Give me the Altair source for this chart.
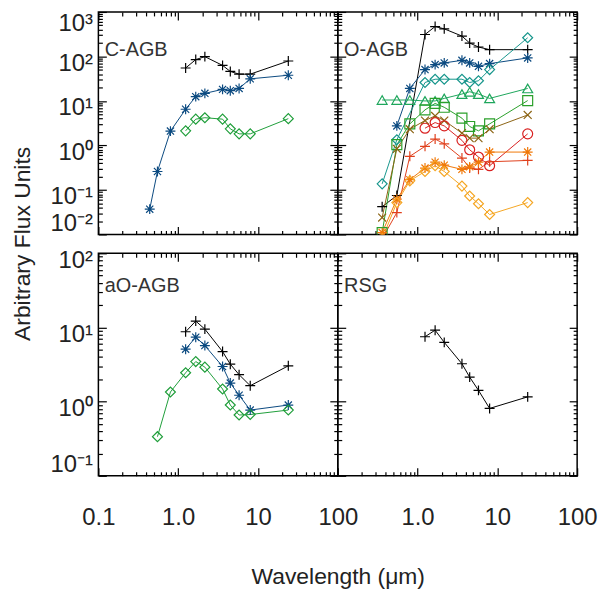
import altair as alt
import pandas as pd

FONT = "Liberation Sans"

# ---------------- data (wavelength in micron, arbitrary flux) ----------------
# C-AGB
cagb_plus_wl = [1.24, 1.66, 2.16, 3.6, 4.5, 5.8, 8.0, 24.0]
cagb_plus_fx = [55, 85, 99, 63, 46, 40, 40, 79]
cagb_star_wl = [0.44, 0.55, 0.80, 1.24, 1.66, 2.16, 3.6, 4.5, 5.8, 8.0, 24.0]
cagb_star_fx = [0.037, 0.26, 2.1, 6.5, 12.5, 14.8, 18.2, 17, 19.1, 31.4, 37.8]
cagb_diam_wl = [1.24, 1.66, 2.16, 3.6, 4.5, 5.8, 8.0, 24.0]
cagb_diam_fx = [2.13, 3.9, 4.2, 3.9, 2.36, 1.82, 1.82, 4.0]

# O-AGB
oagb_plus_wl = [0.36, 0.55, 1.24, 1.66, 2.16, 3.6, 4.5, 5.8, 8.0, 24.0]
oagb_plus_fx = [0.042, 0.075, 311, 470, 417, 287, 200, 163, 142, 142]
oagb_star_wl = [0.55, 0.80, 1.24, 1.66, 2.16, 3.6, 4.5, 5.8, 8.0, 24.0]
oagb_star_fx = [2.75, 19.1, 50.7, 65.6, 71.6, 81.8, 71.6, 60, 69, 92.7]
oagb_tdiam_wl = [0.36, 0.55, 1.24, 1.66, 2.16, 3.6, 4.5, 5.8, 8.0, 24.0]
oagb_tdiam_fx = [0.137, 1.34, 26, 30.8, 30.8, 30.8, 26, 28.4, 50.7, 263]
oagb_tri_wl = [0.36, 0.55, 0.80, 1.24, 1.66, 2.16, 3.6, 4.5, 5.8, 8.0, 24.0]
oagb_tri_fx = [10.5, 10.5, 10.5, 10, 10, 11.4, 14.3, 16.1, 14.3, 11.4, 19.1]
oagb_sq_wl = [0.36, 0.55, 0.80, 1.24, 1.66, 2.16, 3.6, 4.5, 5.8, 8.0, 24.0]
oagb_sq_fx = [0.011, 1.04, 3.05, 6.3, 8.8, 7.2, 4.1, 2.67, 2.13, 3.05, 10.2]
oagb_x_wl = [0.36, 0.55, 0.80, 1.24, 1.66, 2.16, 3.6, 4.5, 5.8, 8.0, 24.0]
oagb_x_fx = [0.024, 0.84, 2.32, 3.63, 4.6, 3.63, 1.89, 1.46, 1.46, 2.32, 4.84]
oagb_circ_wl = [1.24, 1.66, 2.16, 3.6, 4.5, 5.8, 8.0, 24.0]
oagb_circ_fx = [2.44, 3.27, 2.75, 1.3, 0.80, 0.55, 0.35, 1.82]
oagb_rplus_wl = [0.36, 0.55, 0.80, 1.24, 1.66, 2.16, 3.6, 4.5, 5.8, 8.0, 24.0]
oagb_rplus_fx = [0.008, 0.031, 0.57, 0.955, 1.39, 1.09, 0.52, 0.31, 0.29, 0.43, 0.46]
oagb_ostar_wl = [0.36, 0.55, 0.80, 1.24, 1.66, 2.16, 3.6, 4.5, 5.8, 8.0, 24.0]
oagb_ostar_fx = [0.011, 0.062, 0.17, 0.31, 0.42, 0.36, 0.29, 0.33, 0.42, 0.71, 0.71]
oagb_odiam_wl = [0.36, 0.55, 0.80, 1.24, 1.66, 2.16, 3.6, 4.5, 5.8, 8.0, 24.0]
oagb_odiam_fx = [0.008, 0.052, 0.16, 0.26, 0.35, 0.26, 0.122, 0.073, 0.049, 0.028, 0.052]

# aO-AGB
aoagb_plus_wl = [1.24, 1.66, 2.16, 3.6, 4.5, 5.8, 8.0, 24.0]
aoagb_plus_fx = [8.75, 12.2, 9.5, 4.73, 3.2, 2.31, 1.64, 3.04]
aoagb_star_wl = [1.24, 1.66, 2.16, 3.6, 4.5, 5.8, 8.0, 24.0]
aoagb_star_fx = [5.1, 7.4, 5.7, 2.98, 1.78, 1.22, 0.77, 0.90]
aoagb_diam_wl = [0.55, 0.80, 1.24, 1.66, 2.16, 3.6, 4.5, 5.8, 8.0, 24.0]
aoagb_diam_fx = [0.337, 1.35, 2.45, 3.47, 2.92, 1.48, 0.90, 0.66, 0.67, 0.77]

# RSG
rsg_plus_wl = [1.24, 1.66, 2.16, 3.6, 4.5, 5.8, 8.0, 24.0]
rsg_plus_fx = [7.5, 9.2, 6.3, 3.24, 2.14, 1.42, 0.81, 1.16]

panel_names = ["C-AGB", "O-AGB", "aO-AGB", "RSG"]
panel_label_y = [100, 100, 30, 30]

# ---------------- styles ----------------
PLUS = "M-1,0L1,0M0,-1L0,1"
STAR = "M-1,0L1,0M0,-1L0,1M-0.72,-0.72L0.72,0.72M-0.72,0.72L0.72,-0.72"
XSYM = "M-0.8,-0.8L0.8,0.8M-0.8,0.8L0.8,-0.8"

series = [
    # panel, id, wl, flux, color, shape
    ("C-AGB", "c_plus", cagb_plus_wl, cagb_plus_fx, "#000000", PLUS),
    ("C-AGB", "c_star", cagb_star_wl, cagb_star_fx, "#0b4a80", STAR),
    ("C-AGB", "c_diam", cagb_diam_wl, cagb_diam_fx, "#1f9e3a", "diamond"),
    ("O-AGB", "o_plus", oagb_plus_wl, oagb_plus_fx, "#000000", PLUS),
    ("O-AGB", "o_star", oagb_star_wl, oagb_star_fx, "#0b4a80", STAR),
    ("O-AGB", "o_tdiam", oagb_tdiam_wl, oagb_tdiam_fx, "#17968c", "diamond"),
    ("O-AGB", "o_tri", oagb_tri_wl, oagb_tri_fx, "#1ea65c", "triangle-up"),
    ("O-AGB", "o_sq", oagb_sq_wl, oagb_sq_fx, "#2aa02a", "square"),
    ("O-AGB", "o_x", oagb_x_wl, oagb_x_fx, "#8c6414", XSYM),
    ("O-AGB", "o_circ", oagb_circ_wl, oagb_circ_fx, "#d92020", "circle"),
    ("O-AGB", "o_rplus", oagb_rplus_wl, oagb_rplus_fx, "#e0401c", PLUS),
    ("O-AGB", "o_ostar", oagb_ostar_wl, oagb_ostar_fx, "#f07808", STAR),
    ("O-AGB", "o_odiam", oagb_odiam_wl, oagb_odiam_fx, "#f5a623", "diamond"),
    ("aO-AGB", "a_plus", aoagb_plus_wl, aoagb_plus_fx, "#000000", PLUS),
    ("aO-AGB", "a_star", aoagb_star_wl, aoagb_star_fx, "#0b4a80", STAR),
    ("aO-AGB", "a_diam", aoagb_diam_wl, aoagb_diam_fx, "#1f9e3a", "diamond"),
    ("RSG", "r_plus", rsg_plus_wl, rsg_plus_fx, "#000000", PLUS),
]

rows = []
for pan, sid, wls, fxs, _, _ in series:
    for w, f in zip(wls, fxs):
        rows.append({"panel": pan, "series": sid, "wl": w, "flux": f})
df = pd.DataFrame(rows)

ser_ids = [s[1] for s in series]
ser_colors = [s[4] for s in series]
ser_shapes = [s[5] for s in series]

lab_df = pd.DataFrame({"panel": panel_names, "label": panel_names,
                       "wl": [0.12] * 4, "flux": panel_label_y})

W, H = 241, 224
XDOM = [0.1, 100]
xmaj = [0.1, 1, 10, 100]
xmin = [m * 10.0 ** e for e in (-1, 0, 1) for m in range(2, 10)]

LX = "datum.value < 0.5 ? '0.1' : datum.value < 5 ? '1.0' : datum.value < 50 ? '10' : '100'"
LY = ("datum.value > 500 ? '10³' : datum.value > 50 ? '10²' : datum.value > 5 ? '10¹' : "
      "datum.value > 0.5 ? '10⁰' : datum.value > 0.05 ? '10⁻¹' : '10⁻²'")


def make_panel(name, ydom, left, bottom, xlab_vals, ytitle=False, xtitle=False):
    e0 = 0 if ydom[0] >= 1 else (-1 if ydom[0] >= 0.1 else -2)
    e1 = 2 if ydom[1] <= 100 else 3
    ymaj = [10.0 ** e for e in range(e0, e1 + 1)]
    ymin = [m * 10.0 ** e for e in range(e0, e1) for m in range(2, 10)]
    xs = alt.Scale(type="log", domain=XDOM, nice=False)
    ys = alt.Scale(type="log", domain=ydom, nice=False)
    base = alt.Chart(df).transform_filter(alt.datum.panel == name)

    def ax_layer(xaxis, yaxis):
        return base.mark_point(opacity=0, clip=True).encode(
            x=alt.X("wl:Q", scale=xs, axis=xaxis),
            y=alt.Y("flux:Q", scale=ys, axis=yaxis))

    xa = dict(orient="bottom", values=(xlab_vals if bottom else xmaj), tickSize=8, offset=-8,
              domain=False, grid=False, labels=bottom, labelExpr=LX, labelPadding=30,
              labelFlush=False, labelOverlap=False)
    if xtitle:
        xa.update(title="Wavelength (μm)", titleX=W, titleY=109, titleAlign="center",
                  titleBaseline="middle", titleAngle=0)
    else:
        xa.update(title=None)
    ya = dict(orient="left", values=ymaj, tickSize=8, offset=-8, domain=False, grid=False,
              labels=left, labelExpr=LY, labelPadding=6, labelBaseline="middle",
              labelOverlap=False, labelFlush=False,
              labelOffset={"condition": [
                  {"test": "datum.value < %g" % (ydom[0] * 1.5), "value": -11},
                  {"test": "datum.value > 500", "value": 12}], "value": 7})
    if ytitle:
        ya.update(title="Arbitrary Flux Units", titleX=-84, titleY=H + 9,
                  titleAlign="center", titleBaseline="middle", titleAngle=270)
    else:
        ya.update(title=None)

    main = ax_layer(alt.Axis(**xa), alt.Axis(**ya))
    minor = ax_layer(
        alt.Axis(orient="bottom", values=xmin, tickSize=4, offset=-4, domain=False, grid=False,
                 labels=False, title=None),
        alt.Axis(orient="left", values=ymin, tickSize=4, offset=-4, domain=False, grid=False,
                 labels=False, title=None))
    opp = ax_layer(
        alt.Axis(orient="top", values=xmaj, tickSize=8, offset=-8, domain=False, grid=False,
                 labels=False, title=None),
        alt.Axis(orient="right", values=ymaj, tickSize=8, offset=-8, domain=False, grid=False,
                 labels=False, title=None))
    opp_minor = ax_layer(
        alt.Axis(orient="top", values=xmin, tickSize=4, offset=-4, domain=False, grid=False,
                 labels=False, title=None),
        alt.Axis(orient="right", values=ymin, tickSize=4, offset=-4, domain=False, grid=False,
                 labels=False, title=None))

    col = alt.Color("series:N", scale=alt.Scale(domain=ser_ids, range=ser_colors), legend=None)
    shp = alt.Shape("series:N", scale=alt.Scale(domain=ser_ids, range=ser_shapes), legend=None)
    xe = alt.X("wl:Q", scale=xs, axis=None)
    ye = alt.Y("flux:Q", scale=ys, axis=None)

    lines = base.mark_line(strokeWidth=1, clip=True).encode(
        x=xe, y=ye, color=col, detail="series:N", order="wl:Q")
    pts = base.mark_point(filled=False, strokeWidth=1.2, size=100, opacity=1, clip=True).encode(
        x=xe, y=ye, color=col, shape=shp)
    txt = alt.Chart(lab_df).transform_filter(alt.datum.panel == name).mark_text(
        align="left", baseline="alphabetic", font=FONT, fontSize=20, color="#333333").encode(
        x=xe, y=ye, text="label:N")

    return alt.layer(main, minor, opp, opp_minor, lines, pts, txt).resolve_axis(
        x="independent", y="independent").properties(width=W, height=H)


p1 = make_panel("C-AGB", [0.01, 1000], True, False, xmaj, ytitle=True)
p2 = make_panel("O-AGB", [0.01, 1000], False, False, xmaj)
p3 = make_panel("aO-AGB", [0.1, 100], True, True, [0.1, 1, 10, 100], xtitle=True)
p4 = make_panel("RSG", [0.1, 100], False, True, [1, 10, 100])

chart = alt.concat(p1, p2, p3, p4, columns=2, spacing={"row": 19, "column": 0},
                   bounds="flush").properties(
    padding={"left": 3, "top": 0, "right": 0, "bottom": 0}).configure_view(
    stroke="black", strokeWidth=1.5).configure_axis(
    labelFont=FONT, labelFontSize=24, labelColor="#222222", titleFont=FONT,
    titleFontSize=23, titleFontWeight="normal", titleColor="#222222",
    tickColor="black", tickWidth=1.2)

chart.save("out.html", embed_options={"renderer": "svg", "actions": False})
